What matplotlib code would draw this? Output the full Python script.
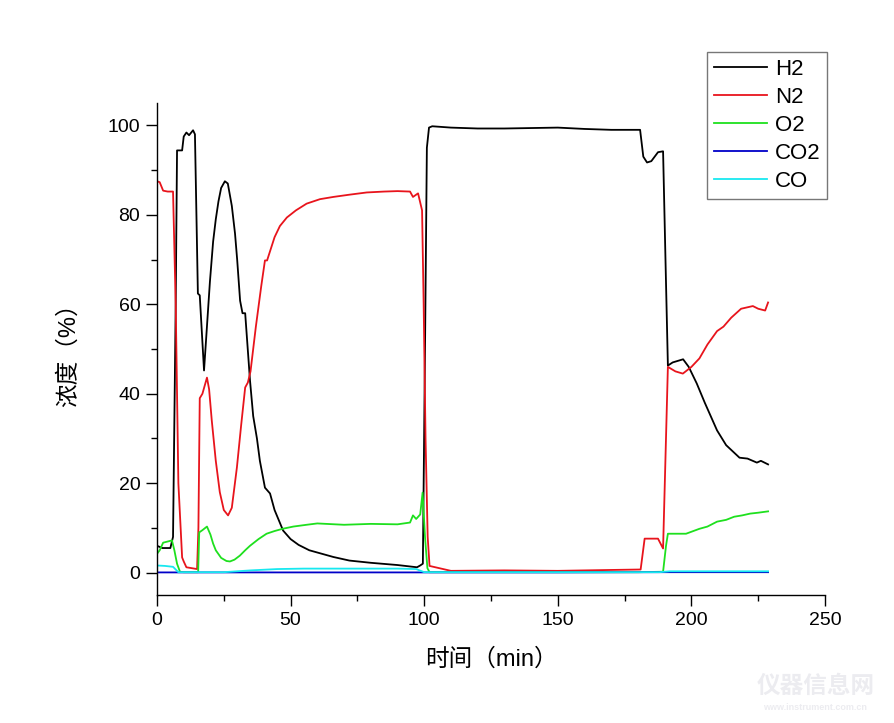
import matplotlib
matplotlib.use("Agg")
import matplotlib.pyplot as plt
from matplotlib.ticker import MultipleLocator

plt.rcParams['font.family'] = ['Liberation Sans', 'Noto Sans CJK SC', 'DejaVu Sans']

# H2
t_h2 = [0, 2, 5, 6, 7, 7.5, 9.4, 10, 11, 12, 13.5, 14.2, 15.3, 16, 17.6, 19.8, 21, 22, 23, 24, 25.4,
        26.5, 28, 29.2, 30, 31.1, 32, 33, 34.8, 36, 37.4, 38.5, 40.4, 42.3, 44, 47.2, 50, 53, 57, 60,
        66, 72, 80, 90, 97.3, 98.5, 99.5, 100.3, 101, 101.8, 103, 110, 120, 130, 150, 160, 170,
        180.8, 182, 183.4, 185, 187.5, 189.4, 190.3, 191.2, 193, 196.9, 199, 202, 205, 209.6, 213,
        218, 221, 224.5, 226, 228.7]
v_h2 = [6, 5.5, 5.5, 8, 60, 94.4, 94.4, 97.5, 98.4, 97.8, 98.9, 98, 62.4, 62, 45.2, 65, 74, 79, 83, 86, 87.5,
        87, 82, 75.8, 70, 60.8, 58, 58, 43, 35, 30, 25, 19, 17.7, 14, 9.4, 7.5, 6.2, 5, 4.5,
        3.5, 2.7, 2.2, 1.7, 1.2, 1.6, 2, 50, 95, 99.5, 99.8, 99.5, 99.3, 99.3, 99.5, 99.2, 99.0,
        99.0, 93, 91.7, 92, 94, 94.2, 70, 46.3, 47, 47.7, 46, 42.3, 38, 31.8, 28.5,
        25.7, 25.5, 24.6, 25, 24.2]

# N2
t_n2 = [0, 1, 2.3, 4, 6, 7, 8, 9.4, 10, 11, 13, 15, 15.5, 16, 17, 18.7, 19.5, 20.5, 22, 23.5, 25,
        26.6, 28, 29.9, 31.5, 33, 34, 35, 37, 39, 40.4, 41.2, 44, 46, 48.6, 52, 56, 61, 66, 72, 78.5,
        85, 90, 94.7, 95.8, 97.7, 99.2, 99.8, 100.5, 101.3, 102, 110, 130, 150, 170, 181, 182.5,
        187.5, 189.4, 191.2, 194, 196.8, 200, 203, 206, 209.6, 212, 214.9, 218.6, 223, 225, 227.6,
        228.7]
v_n2 = [87.5, 87.3, 85.4, 85.2, 85.2, 60, 20, 3.4, 2.5, 1.2, 1.0, 0.8, 10, 39, 40, 43.6, 41, 34, 25, 18, 14,
        12.8, 14.5, 23.5, 33, 41.4, 42.5, 45, 55, 64, 69.8, 69.8, 75, 77.5, 79.4, 81, 82.5, 83.5, 84, 84.5, 85,
        85.2, 85.3, 85.2, 84, 84.8, 81, 60, 30, 8, 1.5, 0.4, 0.5, 0.4, 0.6, 0.7, 7.6,
        7.6, 5.4, 46, 45, 44.5, 46, 47.9, 51, 54, 55, 57, 59, 59.6, 59, 58.6,
        60.4]

# O2
t_o2 = [0, 1, 2.3, 5.6, 6.5, 7.5, 8.6, 10, 15.4, 15.8, 17, 18.7, 20, 21, 22, 24, 26, 27.3, 29, 31,
        33, 34.8, 38, 41, 44, 47, 51, 56, 60, 70, 80, 90, 94.7, 95.8, 97, 98.5, 99.4, 100.3, 101.2,
        102, 120, 150, 180, 189.4, 190.5, 191.2, 195, 198, 203, 206, 209.6, 213, 216, 219, 222, 225,
        228.7]
v_o2 = [4.2, 5, 6.7, 7.2, 5, 2, 0.2, 0.1, 0.1, 9, 9.5, 10.3, 8.5, 6.5, 5, 3.3, 2.6, 2.5, 2.9, 3.8,
        5, 6, 7.5, 8.7, 9.3, 9.8, 10.3, 10.7, 11, 10.7, 10.9, 10.8, 11.2, 12.8, 12, 13, 17.9, 8, 1,
        0.1, 0.1, 0.1, 0.1, 0.2, 6, 8.7, 8.7, 8.7, 9.8, 10.3, 11.4, 11.8, 12.5, 12.8, 13.2, 13.4,
        13.7]

# CO2
t_co2 = [0, 50, 100, 150, 190, 228.7]
v_co2 = [0.05, 0.05, 0.05, 0.05, 0.1, 0.1]

# CO
t_co = [0, 3, 6, 8, 25, 35, 45, 55, 70, 90, 97, 100, 101, 150, 188, 192, 228.7]
v_co = [1.6, 1.5, 1.3, 0.1, 0.1, 0.5, 0.8, 0.9, 0.9, 0.9, 0.8, 0.1, 0.1, 0.1, 0.1, 0.3, 0.3]

fig = plt.figure(figsize=(8.95, 7.23), dpi=100)
ax = fig.add_axes([157/895, 1-595/723, (825-157)/895, (595-103)/723])

lw = 1.3
ax.plot(t_h2, v_h2, color='black', lw=lw, label='H2')
ax.plot(t_n2, v_n2, color='#e8141c', lw=lw, label='N2')
ax.plot(t_o2, v_o2, color='#1ee01e', lw=lw, label='O2')
ax.plot(t_co2, v_co2, color='#0000c8', lw=lw, label='CO2')
ax.plot(t_co, v_co, color='#18e8f0', lw=lw, label='CO')

ax.set_xlim(0, 250)
ax.set_ylim(-5, 105)
ax.xaxis.set_major_locator(MultipleLocator(50))
ax.xaxis.set_minor_locator(MultipleLocator(25))
ax.yaxis.set_major_locator(MultipleLocator(20))
ax.yaxis.set_minor_locator(MultipleLocator(10))
ax.spines['top'].set_visible(False)
ax.spines['right'].set_visible(False)
for s in ['left', 'bottom']:
    ax.spines[s].set_linewidth(1.0)
ax.tick_params(which='major', direction='out', length=8, width=1, labelsize=14, pad=4)
ax.tick_params(which='minor', direction='out', length=4, width=1)

ax.set_xlabel('时间（min）', fontsize=17, labelpad=14)
ax.set_ylabel('浓度（%）', fontsize=17, labelpad=20)

leg = ax.legend(loc='upper left', bbox_to_anchor=(707/895, 1-52/723), bbox_transform=fig.transFigure,
                fontsize=16, frameon=True, fancybox=False, handlelength=2.4, handletextpad=0.35,
                labelspacing=0.32, borderpad=0.3, borderaxespad=0)
leg.get_frame().set_edgecolor('#555555')
leg.get_frame().set_linewidth(1.0)

# faint watermark
fig.text(0.845, 0.042, '仪器信息网', fontsize=17, fontweight='bold', color='#ececf0',
         family=['Noto Sans CJK SC'])
fig.text(0.853, 0.018, 'www.instrument.com.cn', fontsize=6.5, fontweight='bold', color='#ececf0')

fig.savefig('out.png', dpi=100)
